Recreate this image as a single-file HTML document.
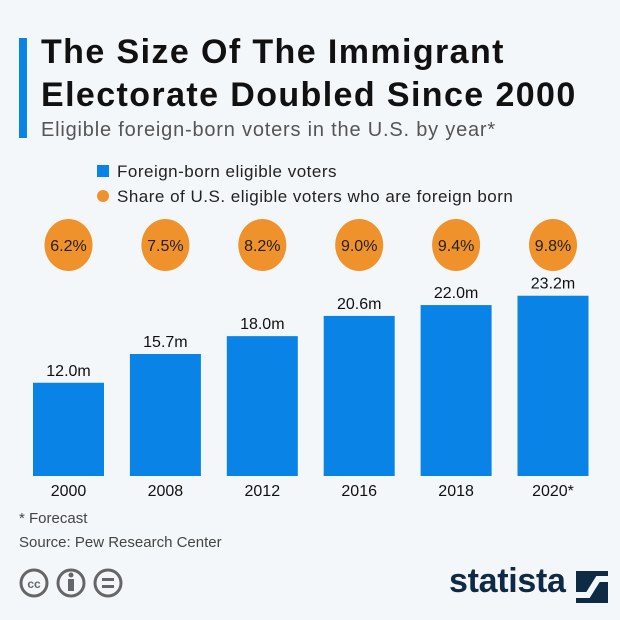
<!DOCTYPE html>
<html><head><meta charset="utf-8"><style>
body{margin:0;width:620px;height:620px;background:#f4f7fa;font-family:"Liberation Sans",sans-serif;overflow:hidden;position:relative}
.abs{position:absolute;white-space:nowrap}
</style></head><body>
<div class="abs" style="left:19px;top:38px;width:8px;height:100px;background:#0a83e6"></div>
<div class="abs" style="left:41px;top:31px;font-size:34px;font-weight:bold;line-height:43px;color:#111;letter-spacing:1.4px">The Size Of The Immigrant<br>Electorate Doubled Since 2000</div>
<div class="abs" style="left:41px;top:119px;font-size:20px;color:#555;letter-spacing:0.8px">Eligible foreign-born voters in the U.S. by year*</div>
<div class="abs" style="left:97px;top:162px;font-size:17px;color:#222;letter-spacing:0.5px"><span style="display:inline-block;width:12px;height:12px;background:#0a83e6;margin-right:8px"></span>Foreign-born eligible voters</div>
<div class="abs" style="left:97px;top:187px;font-size:17px;color:#222;letter-spacing:0.5px"><span style="display:inline-block;width:12px;height:12px;border-radius:50%;background:#f0922b;margin-right:8px"></span>Share of U.S. eligible voters who are foreign born</div>
<svg class="abs" style="left:0;top:0" width="620" height="620" id="chart"></svg>
<div class="abs" style="left:19px;top:510px;font-size:15px;color:#444">* Forecast</div>
<div class="abs" style="left:19px;top:534px;font-size:15px;color:#444">Source: Pew Research Center</div>
<svg class="abs" style="left:18px;top:567px" width="110" height="34">
<g fill="none" stroke="#666" stroke-width="3"><circle cx="16" cy="16" r="13"/><circle cx="53" cy="16" r="13"/><circle cx="90" cy="16" r="13"/></g>
<text x="16" y="21" font-size="12" font-weight="bold" text-anchor="middle" fill="#666" font-family="Liberation Sans">cc</text>
<rect x="50" y="12" width="6" height="12" fill="#666"/><circle cx="53" cy="8" r="2.5" fill="#666"/>
<rect x="84" y="11" width="12" height="3" fill="#666"/><rect x="84" y="18" width="12" height="3" fill="#666"/>
</svg>
<div class="abs" style="left:449px;top:562px;font-size:34px;font-weight:bold;color:#0f2a44;letter-spacing:-0.3px">statista</div>
<svg class="abs" style="left:576px;top:571px" width="32" height="32"><rect width="32" height="32" fill="#0f2a44"/><path d="M0 24 L12 24 L22 8 L32 8" stroke="#f4f7fa" stroke-width="6" fill="none"/></svg>
<script>
const categories=["2000","2008","2012","2016","2018","2020*"];
const voters=[12.0,15.7,18.0,20.6,22.0,23.2];
const shares=[6.2,7.5,8.2,9.0,9.4,9.8];
const svg=document.getElementById('chart');
const NS='http://www.w3.org/2000/svg';
const x0=33,pitch=96.9,bw=71,base=476,scale=7.77;
const xPos=i=>x0+i*pitch;
const yPos=v=>base-v*scale;
function mk(t,a){const e=document.createElementNS(NS,t);for(const k in a)e.setAttribute(k,a[k]);svg.appendChild(e);return e;}
categories.forEach((c,i)=>{
 const r=mk('rect',{x:xPos(i),y:yPos(voters[i]),width:bw,height:base-yPos(voters[i]),fill:'#0a83e6'});
 
 
 const cx=xPos(i)+bw/2;
 const v=mk('text',{x:cx,y:yPos(voters[i])-7,'text-anchor':'middle','font-size':16,fill:'#111','font-family':'Liberation Sans'});
 v.textContent=voters[i].toFixed(1)+'m';
 
 
 const cl=mk('text',{x:cx,y:496,'text-anchor':'middle','font-size':16,fill:'#111','font-family':'Liberation Sans'});
 cl.textContent=c;
 
 
 const ci=mk('ellipse',{cx:cx,cy:245,rx:24,ry:26,fill:'#f0922b'});
 
 
 const st=mk('text',{x:cx,y:251,'text-anchor':'middle','font-size':16,fill:'#222','font-family':'Liberation Sans'});
 st.textContent=shares[i].toFixed(1)+'%';
 
 
});
</script>
</body></html>
